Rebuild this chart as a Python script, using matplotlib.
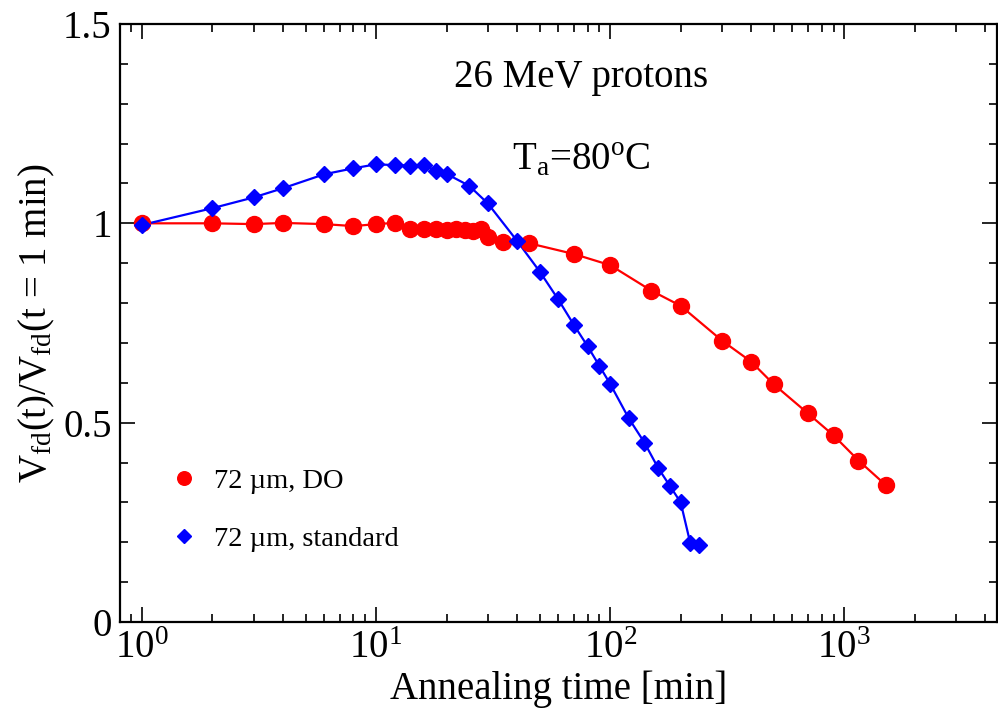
import numpy as np
import matplotlib
matplotlib.use("Agg")
import matplotlib.pyplot as plt
from matplotlib.ticker import LogLocator, MultipleLocator, FuncFormatter

plt.rcParams["font.family"] = ["Liberation Serif", "DejaVu Serif"]
plt.rcParams["mathtext.fontset"] = "custom"
plt.rcParams["mathtext.rm"] = "Liberation Serif"
plt.rcParams["mathtext.it"] = "Liberation Serif:italic"
plt.rcParams["mathtext.default"] = "rm"

# Diffusion oxygenated (DO) sensor, 72 um
t_do = [1, 2, 3, 4, 6, 8, 10, 12, 14, 16, 18, 20, 22, 24, 26, 28, 30, 35,
        45, 70, 100, 150, 200, 300, 400, 500, 700, 900, 1150, 1500]
v_do = [1.0, 1.0, 0.998, 1.001, 0.998, 0.993, 0.998, 1.001, 0.986, 0.986,
        0.986, 0.983, 0.985, 0.984, 0.980, 0.985, 0.966, 0.954,
        0.950, 0.923, 0.895, 0.831, 0.793, 0.706, 0.653, 0.596, 0.523,
        0.468, 0.405, 0.344]

# Standard sensor, 72 um
t_std = [1, 2, 3, 4, 6, 8, 10, 12, 14, 16, 18, 20, 25, 30, 40, 50, 60, 70,
         80, 90, 100, 120, 140, 160, 180, 200, 220, 240]
v_std = [0.996, 1.038, 1.065, 1.088, 1.123, 1.138, 1.148, 1.146, 1.145,
         1.146, 1.132, 1.124, 1.094, 1.050, 0.956, 0.879, 0.809, 0.745,
         0.692, 0.642, 0.597, 0.511, 0.450, 0.387, 0.341, 0.300, 0.197, 0.192]

fig = plt.figure(figsize=(9.98, 7.14), dpi=100)
ax = fig.add_axes([0.1202, 0.1289, 0.879, 0.8375])

ax.plot(t_do, v_do, "-", color="red", lw=1.6)
ax.plot(t_std, v_std, "-", color="blue", lw=1.6)
ax.plot(t_do, v_do, "o", ls="none", color="red", ms=11.5, label="72 \u00b5m, DO")
ax.plot(t_std, v_std, "D", ls="none", color="blue", ms=8, label="72 \u00b5m, standard")

ax.set_xscale("log")
ax.set_xlim(0.805, 4500)
ax.set_ylim(0, 1.5)

ax.yaxis.set_major_locator(MultipleLocator(0.5))
ax.yaxis.set_minor_locator(MultipleLocator(0.1))
ax.yaxis.set_major_formatter(FuncFormatter(lambda v, p: f"{v:g}"))
ax.xaxis.set_major_locator(LogLocator(base=10, numticks=10))
ax.xaxis.set_minor_locator(LogLocator(base=10, subs=np.arange(2, 10), numticks=20))

ax.tick_params(which="both", direction="in", top=True, right=True,
               labelsize=28, width=1.2, pad=6)
ax.tick_params(which="major", length=11)
ax.tick_params(which="minor", length=6)
for s in ax.spines.values():
    s.set_linewidth(1.6)

ax.set_xlabel("Annealing time [min]", fontsize=28, labelpad=2)
ax.set_ylabel(r"V$_{\rm fd}$(t)/V$_{\rm fd}$(t = 1 min)", fontsize=28, labelpad=4)

ax.text(75, 1.365, "26 MeV protons", fontsize=28, ha="center", va="center")
ax.text(75, 1.16, r"T$_{\rm a}$=80$^{\rm o}$C", fontsize=28, ha="center", va="center")

ax.legend(loc="upper left", bbox_to_anchor=(0.045, 0.277), frameon=False,
          fontsize=20.5, handlelength=0.9, handletextpad=0.6, labelspacing=1.15,
          numpoints=1, markerscale=0.85, borderaxespad=0)

fig.savefig("out.png", dpi=100)
